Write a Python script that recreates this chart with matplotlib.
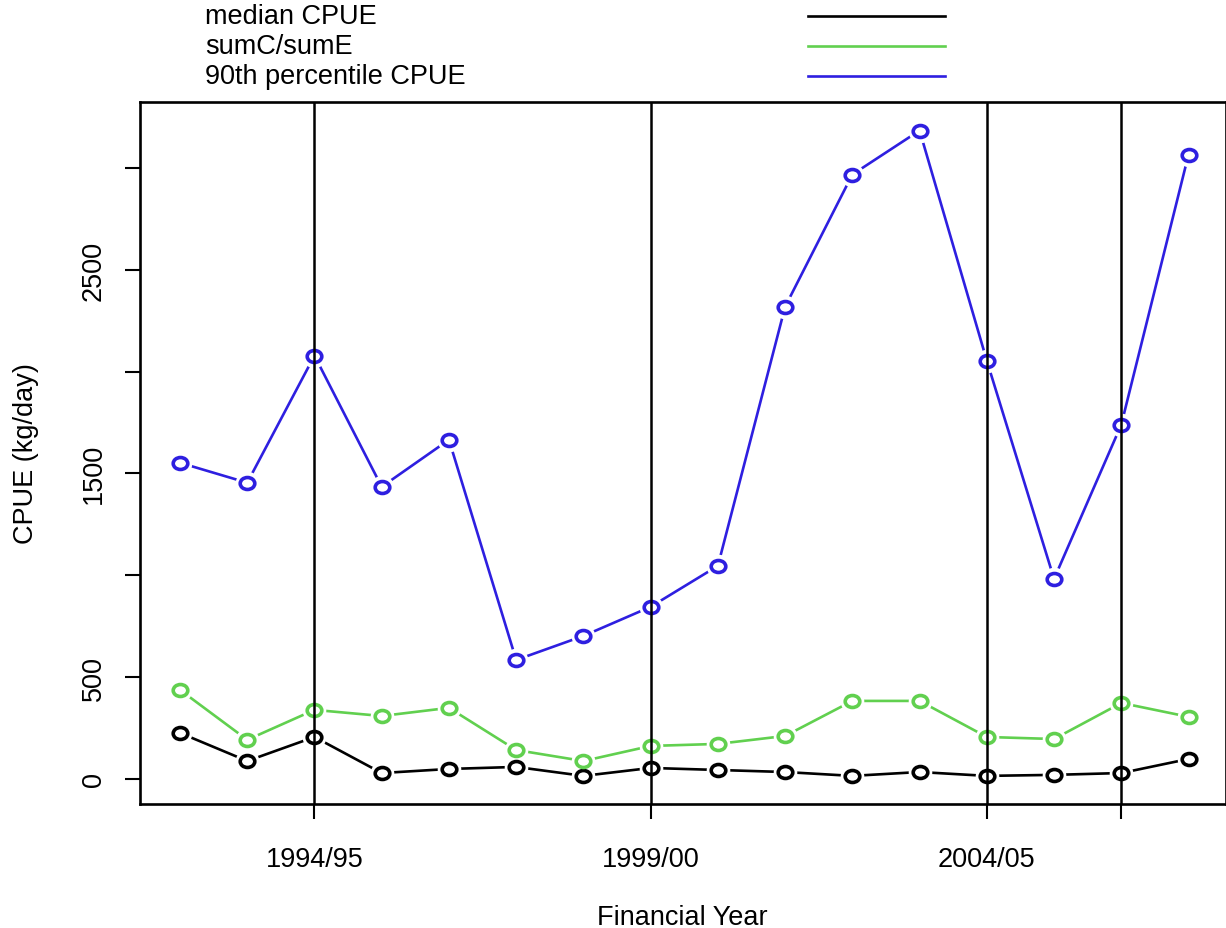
import matplotlib
matplotlib.use("Agg")
import matplotlib.pyplot as plt
import numpy as np
from matplotlib.path import Path
from matplotlib.transforms import Affine2D

plt.rcParams['font.family'] = ['Liberation Sans', 'DejaVu Sans']

years = ['1992/93', '1993/94', '1994/95', '1995/96', '1996/97', '1997/98', '1998/99', '1999/00',
         '2000/01', '2001/02', '2002/03', '2003/04', '2004/05', '2005/06', '2006/07', '2007/08']
median_cpue = [226, 88, 206, 29, 49, 59, 15, 54, 44, 34, 15, 34, 15, 20, 29, 98]
sumc_sume = [437, 192, 339, 309, 349, 142, 88, 162, 172, 211, 383, 383, 206, 196, 373, 305]
p90_cpue = [1552, 1454, 2078, 1434, 1665, 584, 702, 845, 1046, 2318, 2967, 3183, 2053, 982, 1739, 3065]

vline_years = ['1994/95', '1999/00', '2004/05', '2006/07']
label_years = ['1994/95', '1999/00', '2004/05']

c_black = "#000000"
c_green = "#61D04F"
c_blue = "#2E1FE0"

# R-style "o" marker: slightly flattened ring
oval = Path.unit_circle().transformed(Affine2D().scale(1.0, 0.82))

x = np.arange(len(years))

fig = plt.figure(figsize=(12.26, 9.29), dpi=100)
ax = fig.add_axes([140 / 1226, 1 - 805 / 929, 1085.5 / 1226, 702 / 929])

series = [(median_cpue, c_black, 'median CPUE'),
          (sumc_sume, c_green, 'sumC/sumE'),
          (p90_cpue, c_blue, '90th percentile CPUE')]

for vals, col, lab in series:
    ax.plot(x, vals, color=col, lw=1.9, zorder=2, solid_capstyle='butt')
    # white patch under each point to give the gap of R's type="b"
    ax.plot(x, vals, linestyle='none', marker='o', ms=17, mfc='white', mec='none', zorder=3)
    ax.plot(x, vals, linestyle='none', marker=oval, ms=10.5, mfc='none', mec=col, mew=2.6, zorder=4)

for v in vline_years:
    ax.axvline(years.index(v), color='black', lw=1.8, zorder=5)

ax.set_xlim(-0.595, 15.55)
ax.set_ylim(-123, 3323)

ax.set_xticks([years.index(v) for v in vline_years])
ax.set_xticklabels([v if v in label_years else '' for v in vline_years])
ax.set_yticks([0, 500, 1000, 1500, 2000, 2500, 3000])
ax.set_yticklabels(['0', '500', '', '1500', '', '2500', ''], rotation=90, va='center')

ax.tick_params(axis='both', length=11, width=1.5, labelsize=19.5, colors='black')
ax.tick_params(axis='x', pad=19)
ax.tick_params(axis='y', pad=13)
for s in ax.spines.values():
    s.set_linewidth(1.9)

ax.set_xlabel('Financial Year', fontsize=19.5, labelpad=23)
ax.set_ylabel('CPUE (kg/day)', fontsize=19.5, labelpad=30)

# legend above the plot region, drawn like R's legend(xpd=TRUE)
for i, (vals, col, lab) in enumerate(series):
    yy = 1 - (17 + 30 * i) / 929
    fig.text(205 / 1226, yy, lab, fontsize=19.5, va='center', ha='left')
    fig.add_artist(plt.Line2D([808 / 1226, 945 / 1226], [yy, yy], color=col, lw=1.9,
                              transform=fig.transFigure))

fig.savefig('out.png', dpi=100)
